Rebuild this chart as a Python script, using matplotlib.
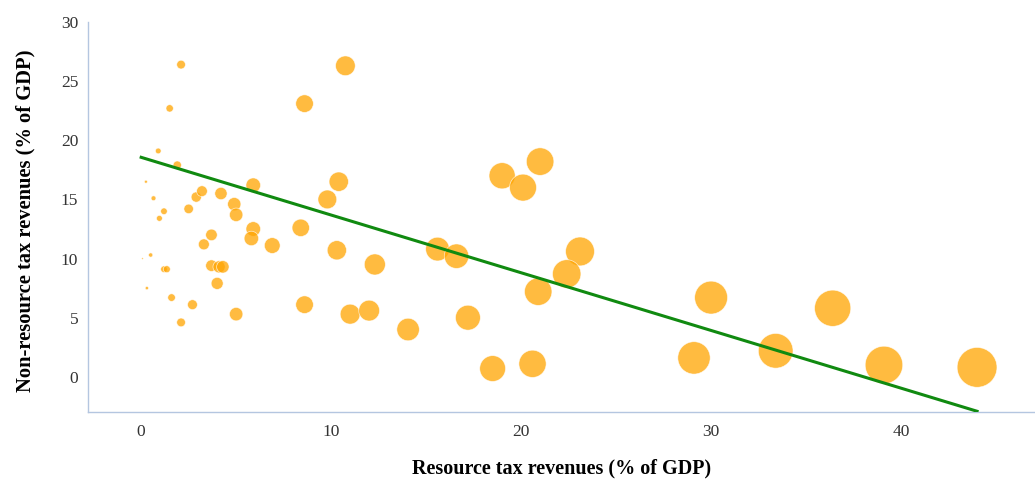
import numpy as np
import matplotlib.pyplot as plt

# resource tax revenues (% of GDP) per country
resource_tax = [2.1, 1.5, 0.9, 1.9, 0.25, 0.65, 1.2, 0.96, 2.9, 3.2,
                4.2, 2.5, 4.9, 5.0, 5.9, 5.9, 5.8, 3.7, 3.3, 0.5,
                0.07, 1.2, 1.35, 3.7, 4.1, 4.3, 4.0, 0.3, 1.6, 2.7,
                2.1, 5.0, 10.75, 8.6, 10.4, 9.8, 6.9, 8.4, 10.3, 12.3,
                8.6, 11.0, 12.0, 14.05, 19.0, 20.1, 21.0, 15.6, 16.6, 23.1,
                22.4, 20.9, 17.2, 18.5, 20.6, 30.0, 29.1, 33.4, 36.4, 39.1,
                44.0]
# non-resource tax revenues (% of GDP)
nonresource_tax = [26.4, 22.7, 19.1, 17.9, 16.5, 15.1, 14.0, 13.4, 15.2, 15.7,
                   15.5, 14.2, 14.6, 13.7, 16.2, 12.5, 11.7, 12.0, 11.2, 10.3,
                   10.0, 9.1, 9.1, 9.4, 9.3, 9.3, 7.9, 7.5, 6.7, 6.1,
                   4.6, 5.3, 26.3, 23.1, 16.5, 15.0, 11.1, 12.6, 10.7, 9.5,
                   6.1, 5.3, 5.6, 4.0, 17.0, 16.0, 18.2, 10.8, 10.2, 10.6,
                   8.7, 7.2, 5.0, 0.7, 1.1, 6.7, 1.6, 2.2, 5.8, 1.0,
                   0.8]

# fitted trend
trend_intercept = 18.56
trend_slope = -0.488

x = np.array(resource_tax)
y = np.array(nonresource_tax)

fig = plt.figure(figsize=(10.35, 4.79), dpi=100)
ax = fig.add_axes([0.085, 0.14, 0.915, 0.814])

# bubble area grows with the resource tax share
ax.scatter(x, y, s=18.7 * x, color='orange', alpha=0.75,
           edgecolors='white', linewidths=0.5, zorder=2)

tx = np.array([0, x.max()])
ax.plot(tx, trend_intercept + trend_slope * tx, color='#108a10', lw=2.2, zorder=3)

ax.set_xlim(-2.8, 47.05)
ax.set_ylim(-2.97, 30)
ax.set_xticks([0, 10, 20, 30, 40])
ax.set_yticks([0, 5, 10, 15, 20, 25, 30])

for s in ['top', 'right']:
    ax.spines[s].set_visible(False)
for s in ['left', 'bottom']:
    ax.spines[s].set_color('#b4c6e0')
    ax.spines[s].set_linewidth(1.0)

ax.tick_params(length=0, labelsize=12.5, labelcolor='#333333')
ax.tick_params(axis='x', pad=9)
ax.tick_params(axis='y', pad=7)
for lab in ax.get_xticklabels() + ax.get_yticklabels():
    lab.set_family('Liberation Serif')

ax.set_xlabel('Resource tax revenues (% of GDP)', family='Liberation Serif',
              fontsize=14.5, fontweight='bold', va='center')
ax.set_ylabel('Non-resource tax revenues (% of GDP)', family='Liberation Serif',
              fontsize=14.8, fontweight='bold', va='center')
ax.xaxis.set_label_coords(0.5, -0.144)
ax.yaxis.set_label_coords(-0.0665, 0.49)

fig.savefig('out.png', dpi=100)
